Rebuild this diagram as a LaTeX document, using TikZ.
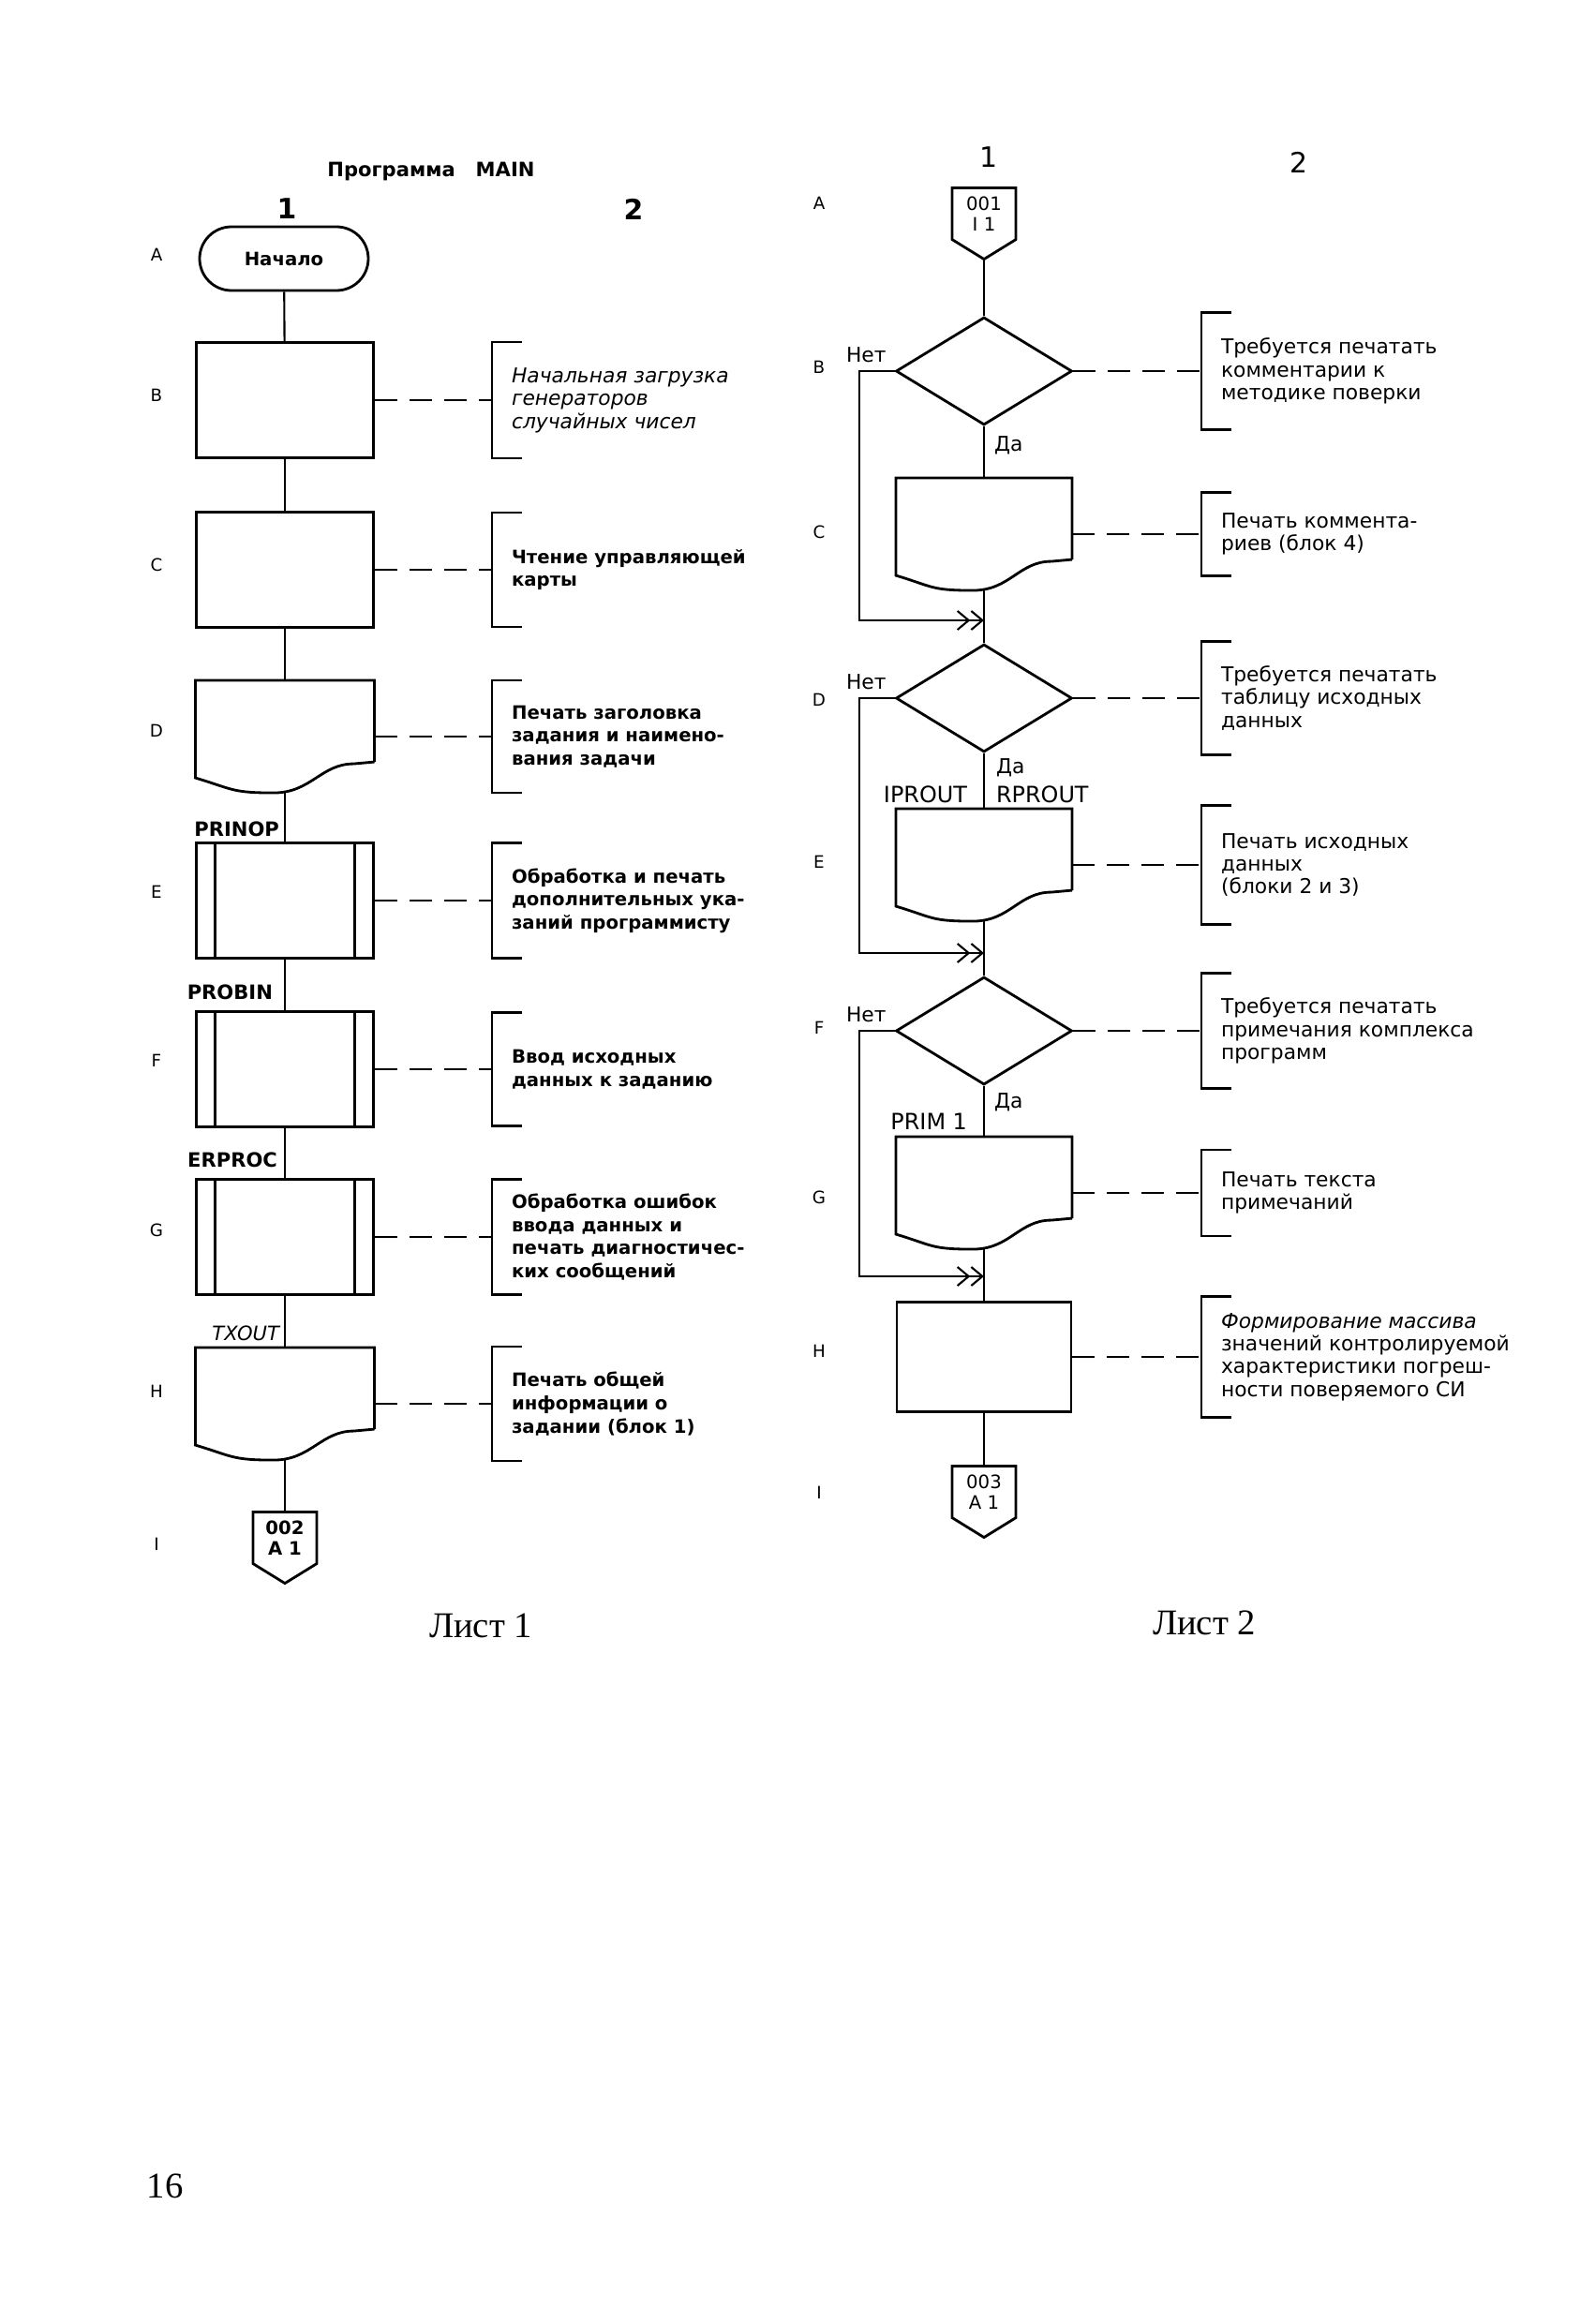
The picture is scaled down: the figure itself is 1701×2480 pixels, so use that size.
\documentclass[tikz,border=0pt]{standalone}
\usepackage{fontspec}
\setmainfont{Liberation Serif}
\setsansfont{DejaVu Sans}
\usetikzlibrary{calc,positioning,arrows.meta,shapes.geometric}

\begin{document}
\begin{tikzpicture}[x=0.1mm, y=-0.1mm, semithick,
  box/.style={rectangle, draw, thick, minimum width=18.9mm, minimum height=12.3mm, inner sep=0pt},
  subbox/.style={box, path picture={
      \draw[thick] ([xshift=2mm]path picture bounding box.north west) -- ([xshift=2mm]path picture bounding box.south west)
                   ([xshift=-2mm]path picture bounding box.north east) -- ([xshift=-2mm]path picture bounding box.south east);}},
  docbox/.style={rectangle, minimum width=18.9mm, minimum height=11.8mm, inner sep=0pt},
  term/.style={rectangle, draw, thick, rounded corners=3.4mm, minimum width=18mm, minimum height=6.8mm,
               font=\sffamily\bfseries\fontsize{5.6}{6.5}\selectfont},
  cond/.style={diamond, draw, thick, minimum width=18.8mm, minimum height=11.5mm, inner sep=0pt},
  link/.style={rectangle, minimum width=6.6mm, minimum height=5.3mm, inner sep=0pt, align=center},
  note/.style={rectangle, anchor=west, inner xsep=2mm, inner ysep=0pt, align=left},
  leftnote/.style={note, font=\sffamily\bfseries\fontsize{5.6}{7}\selectfont},
  rightnote/.style={note, font=\sffamily\fontsize{6.2}{6.9}\selectfont},
  tag/.style={inner sep=0pt, font=\sffamily\bfseries\fontsize{6}{7}\selectfont},
  tagr/.style={inner sep=0pt, font=\sffamily\fontsize{6.8}{8}\selectfont},
  yesno/.style={inner sep=0pt, font=\sffamily\fontsize{6.2}{7}\selectfont},
  rowname/.style={font=\sffamily\fontsize{5.2}{6}\selectfont},
  head/.style={font=\sffamily\bfseries\fontsize{8.5}{10}\selectfont},
  sheet/.style={font=\fontsize{11}{13}\selectfont},
  comment/.style={dash pattern=on 2.4mm off 1.3mm},
  back/.style={-{Straight Barb[length=1.2mm,width=2mm]Straight Barb[length=1.2mm,width=2mm]}}]

  \useasboundingbox (0,0) rectangle (1701,2480);

  %% Sheet 1
  \node[font=\sffamily\bfseries\fontsize{6}{7}\selectfont] (title) at (460,183) {Программа\hspace{2.2mm}MAIN};
  \node[head] (h11) at (306,223) {1};
  \node[head] (h12) at (676,223) {2};
  \foreach \r/\y in {A/272,B/422,C/603,D/780,E/952,F/1132,G/1313,H/1485,I/1648}
    \node[rowname] (r1\r) at (167,\y) {\r};

  \node[term] (start) at (303,276) {Начало};
  \node[box] (B1) at (304,427) {};
  \node[box] (C1) at (304,608) {};
  \node[docbox] (D1) at (304,786) {};
  \node[subbox] (E1) at (304,961) {};
  \node[subbox] (F1) at (304,1141) {};
  \node[subbox] (G1) at (304,1320) {};
  \node[docbox] (H1) at (304,1498) {};
  \node[link, font=\sffamily\bfseries\fontsize{5.6}{6.3}\selectfont] (I1) at (304,1641) {002\\A 1};

  \node[tag, above left=0.4mm and 0.5mm of E1.north] (tE1) {PRINOP};
  \node[tag, above left=1mm and 1.2mm of F1.north] (tF1) {PROBIN};
  \node[tag, above left=1mm and 0.7mm of G1.north] (tG1) {ERPROC};
  \node[tag, font=\sffamily\itshape\fontsize{6}{7}\selectfont, above left=0.6mm and 0.5mm of H1.north] (tH1) {TXOUT};

  \node[leftnote, minimum height=12.2mm, font=\sffamily\itshape\fontsize{6.2}{7}\selectfont] (nB1) at (525,427)
    {Начальная загрузка\\генераторов\\случайных чисел};
  \node[leftnote, minimum height=12mm] (nC1) at (525,608) {Чтение управляющей\\карты};
  \node[leftnote, minimum height=11.8mm] (nD1) at (525,786) {Печать заголовка\\задания и наимено-\\вания задачи};
  \node[leftnote, minimum height=12.1mm] (nE1) at (525,961) {Обработка и печать\\дополнительных ука-\\заний программисту};
  \node[leftnote, minimum height=11.9mm] (nF1) at (525,1141) {Ввод исходных\\данных к заданию};
  \node[leftnote, minimum height=12.1mm] (nG1) at (525,1320)
    {Обработка ошибок\\ввода данных и\\печать диагностичес-\\ких сообщений};
  \node[leftnote, minimum height=12mm] (nH1) at (525,1498) {Печать общей\\информации о\\задании (блок 1)};

  %% Sheet 2
  \node[head, font=\sffamily\fontsize{8.5}{10}\selectfont] (h21) at (1055,168) {1};
  \node[head, font=\sffamily\fontsize{8.5}{10}\selectfont] (h22) at (1386,173) {2};
  \foreach \r/\y in {A/217,B/392,C/568,D/747,E/920,F/1097,G/1278,H/1442,I/1593}
    \node[rowname] (r2\r) at (874,\y) {\r};

  \node[link, font=\sffamily\fontsize{5.6}{6.3}\selectfont] (A2) at (1050,228) {001\\I 1};
  \node[cond] (B2) at (1050,396) {};
  \node[docbox, minimum width=18.6mm] (C2) at (1050,570) {};
  \node[cond] (D2) at (1050,745) {};
  \node[docbox, minimum width=18.6mm] (E2) at (1050,923) {};
  \node[cond] (F2) at (1050,1100) {};
  \node[docbox, minimum width=18.6mm] (G2) at (1050,1273) {};
  \node[box, minimum width=18.6mm, minimum height=11.7mm] (H2) at (1050,1448) {};
  \node[link, font=\sffamily\fontsize{5.6}{6.3}\selectfont] (I2) at (1050,1592) {003\\A 1};

  \coordinate (m1) at (1050,662);
  \coordinate (m2) at (1050,1017);
  \coordinate (m3) at (1050,1362);

  \node[yesno, above left=0.8mm and 0.8mm of B2.west] (noB2) {Нет};
  \node[yesno, below right=1mm and 1mm of B2.south] (yesB2) {Да};
  \node[yesno, above left=0.8mm and 0.8mm of D2.west] (noD2) {Нет};
  \node[yesno, below right=0.5mm and 1.2mm of D2.south] (yesD2) {Да};
  \node[yesno, above left=0.8mm and 0.8mm of F2.west] (noF2) {Нет};
  \node[yesno, below right=0.7mm and 1mm of F2.south] (yesF2) {Да};

  \node[tagr, above left=0.5mm and 1.7mm of E2.north] (tE2a) {IPROUT};
  \node[tagr, above right=0.5mm and 1.2mm of E2.north] (tE2b) {RPROUT};
  \node[tagr, above left=0.6mm and 1.7mm of G2.north] (tG2) {PRIM 1};

  \node[rightnote, minimum height=12.3mm] (nB2) at (1282,396) {Требуется печатать\\комментарии к\\методике поверки};
  \node[rightnote, minimum height=8.7mm] (nC2) at (1282,570) {Печать коммента-\\риев (блок 4)};
  \node[rightnote, minimum height=11.9mm] (nD2) at (1282,745) {Требуется печатать\\таблицу исходных\\данных};
  \node[rightnote, minimum height=12.5mm] (nE2) at (1282,923) {Печать исходных\\данных\\(блоки 2 и 3)};
  \node[rightnote, minimum height=12.1mm] (nF2) at (1282,1100) {Требуется печатать\\примечания комплекса\\программ};
  \node[rightnote, minimum height=9mm] (nG2) at (1282,1273) {Печать текста\\примечаний};
  \node[rightnote, minimum height=12.7mm] (nH2) at (1282,1448)
    {\textit{Формирование массива}\\значений контролируемой\\характеристики погреш-\\ности поверяемого СИ};

  %% Outlines
  \foreach \n in {D1,H1,C2,E2,G2}
    \draw[thick] ($(\n.south east)+(0,-33)$) -- (\n.north east) -- (\n.north west)
      -- ($(\n.south west)+(0,-16)$)
      .. controls +(40,12) and +(-45,0) .. ($(\n.south)+(-12,0)$)
      .. controls +(40,0) and +(-35,0) .. ($(\n.south east)+(-22,-31)$)
      -- ($(\n.south east)+(0,-33)$);
  \foreach \n in {I1,A2,I2}
    \draw[thick] (\n.south west) -- (\n.north west) -- (\n.north east) -- (\n.south east)
      -- ($(\n.south)+(0,21)$) coordinate (\n-tip) -- cycle;
  \foreach \n in {nB1,nC1,nD1,nE1,nF1,nG1,nH1,nB2,nC2,nD2,nE2,nF2,nG2,nH2}
    \draw[thick] ([xshift=3.2mm]\n.north west) -- (\n.north west) -- (\n.south west) -- ([xshift=3.2mm]\n.south west);

  %% Flow lines
  \foreach \a/\b in {start/B1,B1/C1,C1/D1,D1/E1,E1/F1,F1/G1,G1/H1,H1/I1,
                     B2/C2,C2/D2,D2/E2,E2/F2,F2/G2,G2/H2,H2/I2}
    \draw (\a) -- (\b);
  \draw (A2-tip) -- (B2);
  \draw[back] (B2.west) -- ++(-38,0) |- (m1);
  \draw[back] (D2.west) -- ++(-38,0) |- (m2);
  \draw[back] (F2.west) -- ++(-38,0) |- (m3);

  %% Comments
  \foreach \n in {B1,C1,D1,E1,F1,G1,H1,B2,C2,D2,E2,F2,G2,H2}
    \draw[comment] (\n.east) -- (n\n.west);

  \node[sheet] (s1) at (513,1735) {Лист 1};
  \node[sheet] (s2) at (1285,1732) {Лист 2};
  \node[sheet] (pg) at (176,2333) {16};

\end{tikzpicture}
\end{document}
